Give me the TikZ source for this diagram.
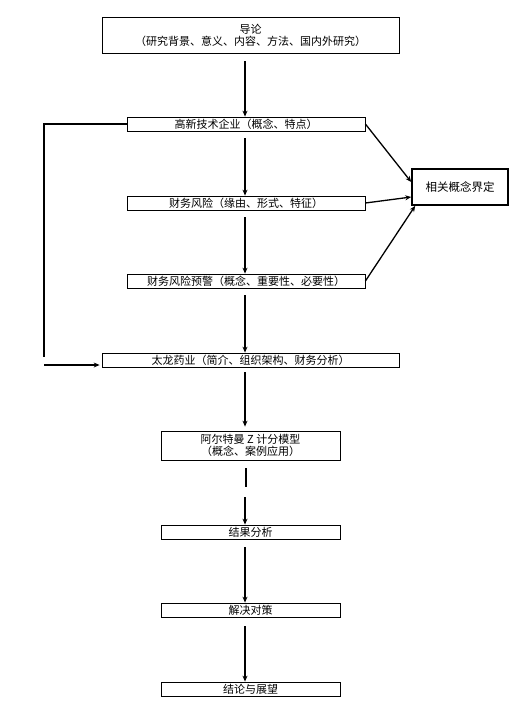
\documentclass[tikz,border=0pt]{standalone}
\usepackage{fontspec}
\setmainfont{Noto Sans CJK SC}
\usetikzlibrary{arrows.meta}
\begin{document}
\begin{tikzpicture}[x=1pt,y=-1pt,
  box/.style={draw,line width=0.8pt,inner sep=0pt,align=center,font=\fontsize{11}{12}\selectfont},
  rbox/.style={draw,line width=1.6pt,inner sep=0pt,align=center,font=\fontsize{11.5}{13}\selectfont},
  arr/.style={line width=1.3pt,-{Stealth[length=6pt,width=5pt]}},
  ln/.style={line width=1.3pt}]
\useasboundingbox (0,0) rectangle (518,710);
\node[box,minimum width=297pt,minimum height=36pt] (b1) at (250.5,35) {导论\\（研究背景、意义、内容、方法、国内外研究）};
\node[box,minimum width=238pt,minimum height=14pt] (b2) at (246,124) {高新技术企业（概念、特点）};
\node[box,minimum width=238pt,minimum height=14pt] (b3) at (246,203) {财务风险（缘由、形式、特征）};
\node[box,minimum width=238pt,minimum height=14pt] (b4) at (246,281) {财务风险预警（概念、重要性、必要性）};
\node[box,minimum width=297pt,minimum height=14pt] (b5) at (250.5,360) {太龙药业（简介、组织架构、财务分析）};
\node[box,minimum width=179pt,minimum height=29pt] (b6) at (250.5,445.5) {阿尔特曼 Z 计分模型\\（概念、案例应用）};
\node[box,minimum width=179pt,minimum height=14pt] (b7) at (250.5,532) {结果分析};
\node[box,minimum width=179pt,minimum height=14pt] (b8) at (250.5,610) {解决对策};
\node[box,minimum width=179pt,minimum height=14pt] (b9) at (250.5,689) {结论与展望};
\node[rbox,minimum width=96pt,minimum height=36pt] (rc) at (460,187) {相关概念界定};
\coordinate (L1) at (44,357);
\coordinate (L2) at (44,365);
% main vertical arrows
\draw[arr] ([xshift=-5.5pt,yshift=-8pt]b1.south) -- ([xshift=-5.5pt]b1.south |- b2.north);
\draw[arr] ([xshift=-1pt,yshift=-7pt]b2.south) -- ([xshift=-1pt]b2.south |- b3.north);
\draw[arr] ([xshift=-1pt,yshift=-7pt]b3.south) -- ([xshift=-1pt]b3.south |- b4.north);
\draw[arr] ([xshift=-1pt,yshift=-7pt]b4.south) -- ([xshift=-1pt]b4.south |- b5.north);
\draw[arr] ([xshift=-5.5pt,yshift=-5pt]b5.south) -- ([xshift=-5.5pt,yshift=4pt]b5.south |- b6.north);
\draw[ln] ([xshift=-4.5pt,yshift=-8pt]b6.south) -- ([xshift=-4.5pt,yshift=-27pt]b6.south);
\draw[arr] ([xshift=-5.5pt,yshift=-37pt]b6.south) -- ([xshift=-5.5pt]b6.south |- b7.north);
\draw[arr] ([xshift=-5.5pt,yshift=-8pt]b7.south) -- ([xshift=-5.5pt]b7.south |- b8.north);
\draw[arr] ([xshift=-5.5pt,yshift=-9pt]b8.south) -- ([xshift=-5.5pt]b8.south |- b9.north);
% to right box
\draw[arr] (b2.east) -- ([yshift=5pt]rc.west);
\draw[arr] (b3.east) -- ([yshift=-10pt]rc.west);
\draw[arr] (b4.east) -- ([xshift=4pt]rc.south west);
% left loop
\draw[ln] (b2.west) -| (L1);
\draw[arr] (L2) -- ([xshift=-2pt,yshift=-5pt]b5.west);
\end{tikzpicture}
\end{document}
